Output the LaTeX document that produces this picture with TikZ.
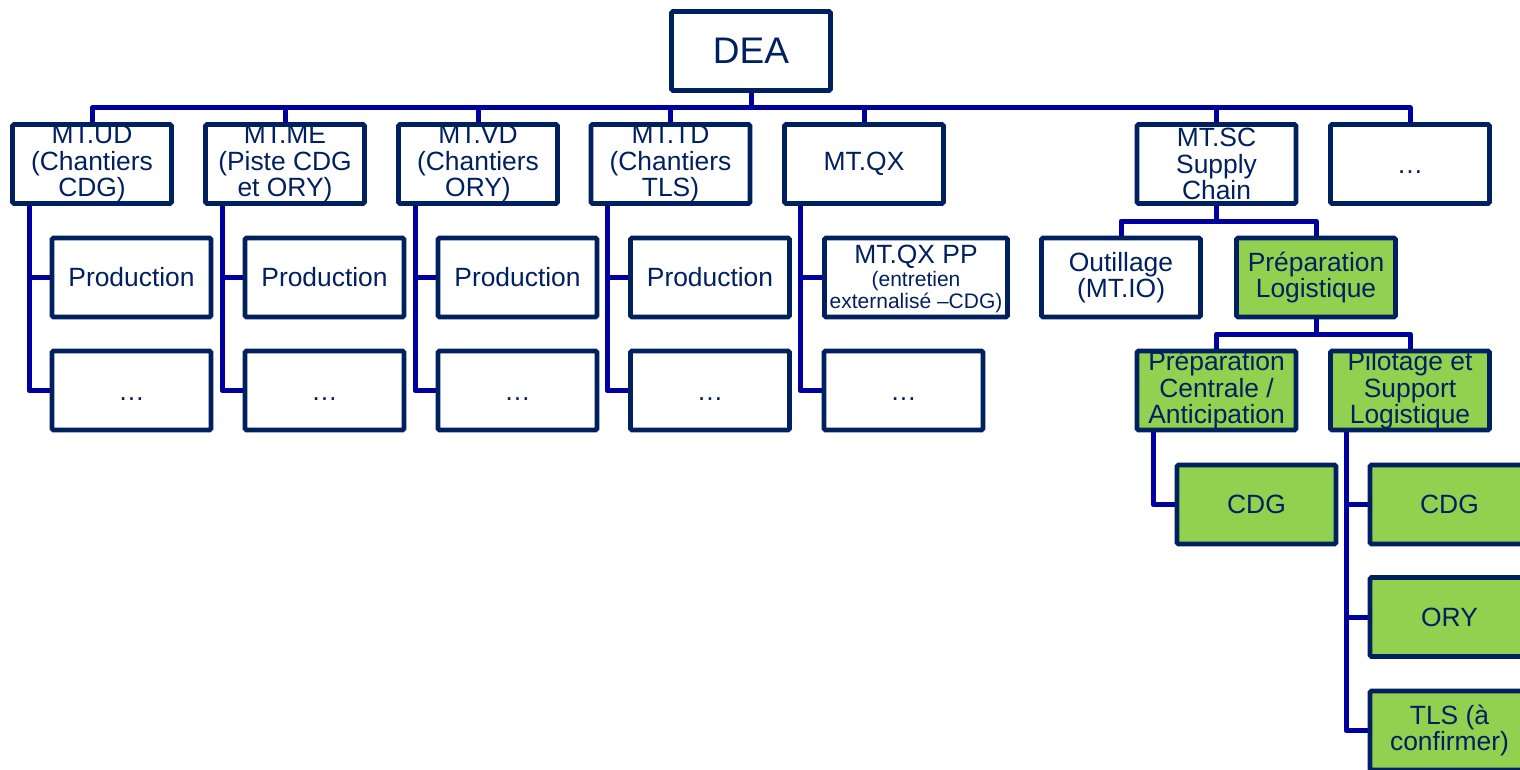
\documentclass[tikz,border=0pt]{standalone}
\usepackage{fontspec}
\setmainfont{Liberation Sans}
\definecolor{navy}{HTML}{002060}
\definecolor{linkblue}{HTML}{0000A0}
\definecolor{lgreen}{HTML}{92D050}
\pgfdeclarelayer{bg}
\pgfsetlayers{bg,main}
\newcommand{\smallfnt}{\fontsize{21}{21.5}\selectfont}
\begin{document}
\begin{tikzpicture}[x=1pt,y=-1pt,
  box/.style={draw=navy, line width=4.7pt, fill=white, minimum width=159pt, minimum height=79pt, inner sep=0pt, rounded corners=1.5pt},
  gbox/.style={box, fill=lgreen},
  txt/.style={text=navy, font=\fontsize{26.4}{26.5}\selectfont, align=center, inner sep=0pt},
  dots/.style={txt, anchor=base},
  link/.style={draw=linkblue, line width=5pt, line join=round}
]
\useasboundingbox (0,0) rectangle (1520,770);
\clip (0,0) rectangle (1520,770);

% root
\node[box] (dea) at (751,51) {};
\node[txt, font=\fontsize{37}{38}\selectfont] at (dea) {DEA};

% level 1
\node[box] (ud) at (92,164) {};
\node[txt] at (ud) {MT.UD\\(Chantiers\\CDG)};
\node[box] (me) at (285,164) {};
\node[txt] at (me) {MT.ME\\(Piste CDG\\et ORY)};
\node[box] (vd) at (478,164) {};
\node[txt] at (vd) {MT.VD\\(Chantiers\\ORY)};
\node[box] (td) at (670.5,164) {};
\node[txt] at (td) {MT.TD\\(Chantiers\\TLS)};
\node[box] (qx) at (864,164) {};
\node[txt] at (qx) {MT.QX};
\node[box] (sc) at (1216.5,164) {};
\node[txt] at (sc) {MT.SC\\Supply\\Chain};
\node[box] (more) at (1410,164) {};
\node[dots] at ([yshift=-9.5pt]more.center) {…};

% level 2
\node[box] (udA) at (131.5,277.5) {};
\node[txt] at (udA) {Production};
\node[box] (meA) at (324.5,277.5) {};
\node[txt] at (meA) {Production};
\node[box] (vdA) at (517.5,277.5) {};
\node[txt] at (vdA) {Production};
\node[box] (tdA) at (710,277.5) {};
\node[txt] at (tdA) {Production};
\node[box, minimum width=183pt] (qxA) at (916,277.5) {};
\node[txt] at ([yshift=-1pt]qxA.center) {MT.QX PP\\[-3pt]\smallfnt (entretien\\[-5pt]\smallfnt externalisé –CDG)};
\node[box] (out) at (1121,277.5) {};
\node[txt] at (out) {Outillage\\(MT.IO)};
\node[gbox] (pl) at (1316,277.5) {};
\node[txt] at (pl) {Préparation\\Logistique};

% level 3
\node[box] (udB) at (131.5,390.5) {};
\node[dots] at ([yshift=-9.5pt]udB.center) {…};
\node[box] (meB) at (324.5,390.5) {};
\node[dots] at ([yshift=-9.5pt]meB.center) {…};
\node[box] (vdB) at (517.5,390.5) {};
\node[dots] at ([yshift=-9.5pt]vdB.center) {…};
\node[box] (tdB) at (710,390.5) {};
\node[dots] at ([yshift=-9.5pt]tdB.center) {…};
\node[box] (qxB) at (903.5,390.5) {};
\node[dots] at ([yshift=-9.5pt]qxB.center) {…};
\node[gbox] (pc) at (1216.5,390.5) {};
\node[txt] at (pc) {Préparation\\Centrale /\\Anticipation};
\node[gbox] (pil) at (1410,390.5) {};
\node[txt] at (pil) {Pilotage et\\Support\\Logistique};

% level 4
\node[gbox] (cdgA) at (1256.5,504.5) {};
\node[txt] at (cdgA) {CDG};
\node[gbox] (cdgB) at (1449.5,504.5) {};
\node[txt] at (cdgB) {CDG};
\node[gbox] (ory) at (1449.5,617) {};
\node[txt] at (ory) {ORY};
\node[gbox] (tls) at (1449.5,730.5) {};
\node[txt] at (tls) {TLS (à\\confirmer)};

% connectors
\coordinate (bus) at (0,108);
\coordinate (scbus) at (0,221);
\coordinate (plbus) at (0,334);
\coordinate (s1) at ([xshift=-63pt]ud.south);
\coordinate (s2) at ([xshift=-63pt]me.south);
\coordinate (s3) at ([xshift=-63pt]vd.south);
\coordinate (s4) at ([xshift=-63.5pt]td.south);
\coordinate (s5) at ([xshift=-64pt]qx.south);
\coordinate (s6) at ([xshift=-63.5pt]pc.south);
\coordinate (s7) at ([xshift=-64pt]pil.south);
\begin{pgfonlayer}{bg}
\draw[link] (dea.south) -- (dea.south |- bus);
\draw[link] (ud.north) -- (ud.north |- bus) -- (more.north |- bus) -- (more.north);
\foreach \n in {me,vd,td,qx,sc}
  \draw[link] (\n.north) -- (\n.north |- bus);
\draw[link] (s1) |- (udB.west);
\draw[link] (s1 |- udA.west) -- (udA.west);
\draw[link] (s2) |- (meB.west);
\draw[link] (s2 |- meA.west) -- (meA.west);
\draw[link] (s3) |- (vdB.west);
\draw[link] (s3 |- vdA.west) -- (vdA.west);
\draw[link] (s4) |- (tdB.west);
\draw[link] (s4 |- tdA.west) -- (tdA.west);
\draw[link] (s5) |- (qxB.west);
\draw[link] (s5 |- qxA.west) -- (qxA.west);
\draw[link] (sc.south) -- (sc.south |- scbus);
\draw[link] (out.north) -- (out.north |- scbus) -- (pl.north |- scbus) -- (pl.north);
\draw[link] (pl.south) -- (pl.south |- plbus);
\draw[link] (pc.north) -- (pc.north |- plbus) -- (pil.north |- plbus) -- (pil.north);
\draw[link] (s6) |- (cdgA.west);
\draw[link] (s7) |- (tls.west);
\draw[link] (s7 |- cdgB.west) -- (cdgB.west);
\draw[link] (s7 |- ory.west) -- (ory.west);
\end{pgfonlayer}
\end{tikzpicture}
\end{document}
